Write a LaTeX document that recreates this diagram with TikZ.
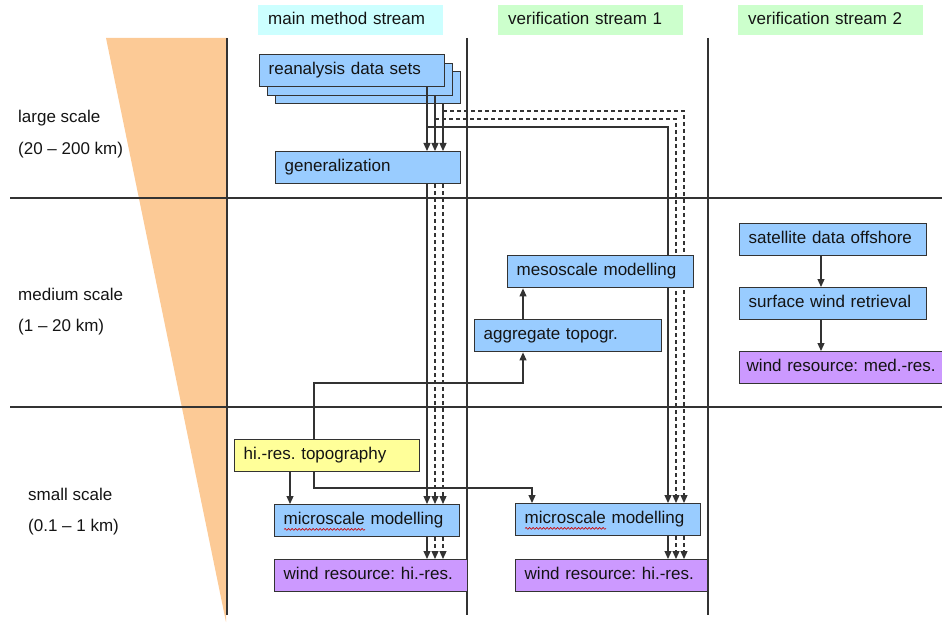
\documentclass[tikz,border=0pt]{standalone}
\usepackage{fontspec}
\setmainfont{Liberation Sans}
\usetikzlibrary{arrows.meta,decorations.pathmorphing,calc}
\definecolor{bluebox}{HTML}{99CCFF}
\definecolor{purplebox}{HTML}{CC99FF}
\definecolor{yellowbox}{HTML}{FFFF99}
\definecolor{orangetri}{HTML}{FCCA96}
\definecolor{cyanhead}{HTML}{CCFFFF}
\definecolor{greenhead}{HTML}{CCFFCC}
\definecolor{linegray}{HTML}{333333}
\definecolor{txt}{HTML}{141414}
\pgfdeclarelayer{bg}
\pgfdeclarelayer{back}
\pgfdeclarelayer{conn}
\pgfsetlayers{bg,back,conn,main}
\frenchspacing
\begin{document}
\frenchspacing
\begin{tikzpicture}[x=1pt,y=-1pt,
  font=\fontsize{17}{20}\selectfont\frenchspacing,
  box/.style={draw=linegray, line width=1.4pt, anchor=north west, inner xsep=9pt, inner ysep=0pt,
    minimum height=32pt, text height=12pt, text depth=3.5pt, align=left, text=txt},
  bbox/.style={box, fill=bluebox},
  pbox/.style={box, fill=purplebox},
  ybox/.style={box, fill=yellowbox},
  head/.style={anchor=north west, inner xsep=10pt, inner ysep=0pt, minimum height=30pt,
    text height=12pt, text depth=3.5pt, align=left, text=txt, text width=165pt},
  lbl/.style={anchor=base west, inner sep=0pt, text=txt},
  grid/.style={draw=linegray, line width=1.2pt},
  arr/.style={draw=linegray, line width=1.2pt, -{Triangle[length=8pt,width=7pt]}},
  dsh/.style={dash pattern=on 4pt off 3pt},
  spell/.style={draw=red!80!black, line width=0.6pt, decorate,
    decoration={snake, amplitude=0.9pt, segment length=3.5pt}}
]
\useasboundingbox (0,0) rectangle (942,623);

% background: scale wedge and grid
\begin{pgfonlayer}{bg}
  \fill[orangetri] (106,38) -- (227,38) -- (226,622) -- cycle;
  \draw[grid] (227,38) -- (227,615);
  \draw[grid] (467,38) -- (467,615);
  \draw[grid] (708,38) -- (708,615);
  \draw[grid] (10,198) -- (942,198);
  \draw[grid] (10,407) -- (942,407);
\end{pgfonlayer}

% headers
\node[head, fill=cyanhead] (h1) at (258,5) {main method stream};
\node[head, fill=greenhead] (h2) at (498,5) {verification stream 1};
\node[head, fill=greenhead] (h3) at (738,5) {verification stream 2};

% scale labels
\node[lbl] (l1) at (18,123) {large scale};
\node[lbl] (l2) at (18,154) {(20 – 200 km)};
\node[lbl] (l3) at (18,300) {medium scale};
\node[lbl] (l4) at (18,331) {(1 – 20 km)};
\node[lbl] (l5) at (28,500) {small scale};
\node[lbl] (l6) at (28,531) {(0.1 – 1 km)};

% stacked reanalysis boxes
\begin{pgfonlayer}{back}
  \node[bbox, minimum width=185pt, text width=167pt] (rean3) at (275,71) {};
  \node[bbox, minimum width=185pt, text width=167pt] (rean2) at (267,63) {};
  \node[bbox, minimum width=185pt, text width=167pt] (rean1) at (259,54) {reanalysis data sets};
\end{pgfonlayer}

% boxes
\node[bbox, minimum width=185pt, text width=167pt] (gen) at (275,151) {generalization};
\node[ybox, minimum width=185pt, text width=167pt] (topo) at (234,439) {hi.-res. topography};
\node[bbox, minimum width=185pt, text width=167pt] (micro1) at (274,504) {microscale modelling};
\node[pbox, minimum width=193pt, text width=175pt] (wind1) at (274,559) {wind resource: hi.-res.};
\node[bbox, minimum width=186pt, text width=168pt] (meso) at (507,255) {mesoscale modelling};
\node[bbox, minimum width=187pt, text width=169pt] (agg) at (474,319) {aggregate topogr.};
\node[bbox, minimum width=185pt, text width=167pt] (micro2) at (515,503) {microscale modelling};
\node[pbox, minimum width=192pt, text width=174pt] (wind2) at (515,559) {wind resource: hi.-res.};
\node[bbox, minimum width=187pt, text width=169pt] (sat) at (739,223) {satellite data offshore};
\node[bbox, minimum width=187pt, text width=169pt] (surf) at (739,287) {surface wind retrieval};
\node[pbox, minimum width=206pt, text width=192pt, inner xsep=7pt] (windm) at (739,351) {wind resource: med.-res.};

% spell-check underlines
\draw[spell] ($(micro1.south west)+(10,-8)$) -- ++(81,0);
\draw[spell] ($(micro2.south west)+(10,-8)$) -- ++(81,0);

% lanes
\coordinate (A) at (427,0);
\coordinate (B) at (435,0);
\coordinate (C) at (443,0);
\coordinate (D) at (668,0);
\coordinate (E) at (676,0);
\coordinate (F) at (684,0);
\coordinate (T1) at (290,0);
\coordinate (T2) at (314,0);
\coordinate (G) at (523,0);
\coordinate (H) at (532,0);
\coordinate (S) at (821,0);
\coordinate (R1) at (0,127);
\coordinate (R2) at (0,119);
\coordinate (R3) at (0,111);
\coordinate (Y1) at (0,383);
\coordinate (Y2) at (0,488);

\begin{pgfonlayer}{conn}
  % reanalysis -> generalization
  \draw[arr] (rean1.south -| A) -- (gen.north -| A);
  \draw[arr] (rean2.south -| B) -- (gen.north -| B);
  \draw[arr] (rean3.south -| C) -- (gen.north -| C);
  % reanalysis -> microscale (stream 1)
  \draw[arr] (rean1.south -| A) -- (A |- R1) -- (D |- R1) -- (micro2.north -| D);
  \draw[arr, dsh] (B |- R2) -- (E |- R2) -- (micro2.north -| E);
  \draw[arr, dsh] (C |- R3) -- (F |- R3) -- (micro2.north -| F);
  % generalization -> microscale (main)
  \draw[arr] (gen.south -| A) -- (micro1.north -| A);
  \draw[arr, dsh] (gen.south -| B) -- (micro1.north -| B);
  \draw[arr, dsh] (gen.south -| C) -- (micro1.north -| C);
  % microscale -> wind resource
  \draw[arr] (micro1.south -| A) -- (wind1.north -| A);
  \draw[arr, dsh] (micro1.south -| B) -- (wind1.north -| B);
  \draw[arr, dsh] (micro1.south -| C) -- (wind1.north -| C);
  \draw[arr] (micro2.south -| D) -- (wind2.north -| D);
  \draw[arr, dsh] (micro2.south -| E) -- (wind2.north -| E);
  \draw[arr, dsh] (micro2.south -| F) -- (wind2.north -| F);
  % topography
  \draw[arr] (topo.south -| T1) -- (micro1.north -| T1);
  \draw[arr] (topo.north -| T2) -- (T2 |- Y1) -- (G |- Y1) -- (agg.south -| G);
  \draw[arr] (topo.south -| T2) -- (T2 |- Y2) -- (H |- Y2) -- (micro2.north -| H);
  \draw[arr] (agg.north -| G) -- (meso.south -| G);
  % stream 2
  \draw[arr] (sat.south -| S) -- (surf.north -| S);
  \draw[arr] (surf.south -| S) -- (windm.north -| S);
\end{pgfonlayer}
\end{tikzpicture}
\end{document}
